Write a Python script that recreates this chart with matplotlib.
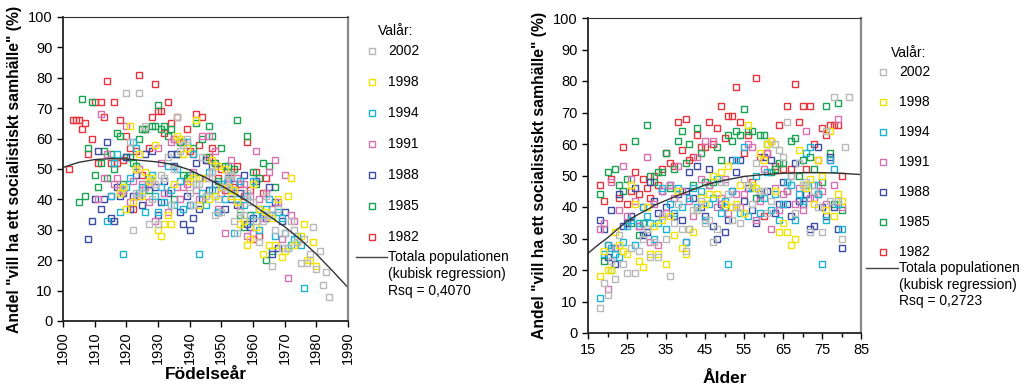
import numpy as np
import matplotlib
matplotlib.use("Agg")
from matplotlib import pyplot as plt
from matplotlib.lines import Line2D
from matplotlib.ticker import MultipleLocator

plt.rcParams['font.family'] = ['Liberation Sans', 'DejaVu Sans']

# survey years (Valår) and colours, in legend order
valar = [2002, 1998, 1994, 1991, 1988, 1985, 1982]
colours = {2002: '#b9b9b9', 1998: '#f2e200', 1994: '#1db4d4', 1991: '#d770b0',
           1988: '#3c4ba3', 1985: '#17a34f', 1982: '#e9333c'}

# first age in each survey series (one value per age)
first_age = {2002: 18, 1998: 18, 1994: 18, 1991: 18, 1988: 18, 1985: 18, 1982: 18}

# share wanting a socialist society (%), per age
andel_1982 = [47, 42, 28, 49, 27, 43, 59, 41, 45, 51,
              44, 49, 46, 43, 50, 47, 52, 57, 54, 53,
              67, 58, 68, 55, 56, 63, 59, 59, 67, 60,
              65, 72, 62, 69, 69, 78, 67, 57, 63, 48,
              81, 56, 37, 57, 61, 53, 66, 52, 72, 52,
              79, 67, 72, 52, 72, 60, 55, 65, 63, 66,
              66, 66, 50]
andel_1985 = [44, 23, 51, 20, 52, 47, 45, 49, 35, 61,
              31, 35, 66, 50, 48, 51, 51, 57, 46, 52,
              61, 64, 54, 60, 47, 65, 57, 48, 47, 48,
              59, 55, 40, 63, 61, 64, 63, 71, 64, 64,
              43, 63, 63, 60, 51, 52, 54, 54, 45, 61,
              62, 50, 55, 47, 56, 52, 44, 48, 72, 57,
              41, 73, 39]
andel_1988 = [36, 33, 24, 39, 22, 44, 34, 35, 37, 46,
              34, 31, 32, 48, 42, 38, 45, 40, 47, 37,
              44, 36, 45, 51, 43, 53, 40, 37, 52, 34,
              30, 41, 32, 36, 55, 51, 55, 42, 46, 39,
              35, 44, 56, 45, 55, 38, 41, 48, 41, 37,
              54, 42, 41, 44, 33, 34, 59, 40, 37, 56,
              40, 33, 27]
andel_1991 = [33, 35, 14, 48, 27, 39, 53, 37, 49, 42,
              34, 40, 56, 29, 41, 28, 45, 38, 47, 43,
              53, 45, 29, 42, 37, 56, 49, 61, 47, 61,
              40, 43, 49, 38, 45, 44, 40, 44, 60, 59,
              36, 42, 52, 57, 33, 46, 39, 44, 45, 50,
              41, 46, 39, 64, 43, 43, 47, 45, 41, 55,
              47, 68, 40]
andel_1994 = [11, 25, 28, 27, 25, 24, 29, 34, 36, 28,
              35, 40, 37, 35, 30, 35, 46, 33, 41, 38,
              46, 40, 29, 43, 46, 40, 45, 36, 41, 43,
              49, 38, 42, 22, 45, 55, 38, 59, 37, 46,
              50, 38, 43, 51, 39, 44, 36, 41, 48, 47,
              36, 44, 42, 57, 59, 47, 44, 22, 36, 55,
              52, 41, 33]
andel_1998 = [18, 26, 20, 20, 32, 28, 26, 25, 47, 41,
              23, 21, 40, 25, 34, 25, 36, 22, 37, 31,
              45, 27, 25, 33, 32, 39, 43, 41, 44, 50,
              44, 51, 41, 53, 40, 41, 47, 38, 66, 47,
              46, 57, 55, 60, 61, 45, 32, 35, 32, 28,
              30, 58, 47, 46, 49, 41, 55, 50, 39, 64,
              37, 44, 42]
andel_2002 = [8, 16, 12, 23, 17, 31, 22, 19, 27, 19,
              26, 30, 33, 24, 29, 24, 37, 30, 18, 35,
              41, 33, 26, 33, 39, 39, 42, 35, 36, 29,
              33, 48, 48, 44, 36, 40, 35, 49, 47, 41,
              54, 45, 45, 38, 42, 60, 58, 56, 67, 50,
              38, 54, 47, 48, 32, 45, 40, 32, 64, 42,
              75, 42, 30, 59, 75]

andel = {1982: andel_1982, 1985: andel_1985, 1988: andel_1988, 1991: andel_1991,
         1994: andel_1994, 1998: andel_1998, 2002: andel_2002}

# cubic regression curves (whole population)
kurva_fodelsear = [1900, 1905, 1910, 1915, 1920, 1925, 1930, 1935, 1940, 1945,
                   1950, 1955, 1960, 1965, 1970, 1975, 1980, 1985, 1990]
kurva_fodelsear_andel = [50.5, 52.2, 53.1, 53.4, 53.3, 52.8, 52.3, 51.4, 49.7, 47.2,
                         44.5, 41.5, 38.2, 34.6, 31.0, 26.8, 22.0, 16.6, 11.0]
kurva_alder = [15, 17.5, 20, 22.5, 25, 27.5, 30, 32.5, 35, 37.5, 40, 42.5,
               45, 47.5, 50, 55, 60, 65, 70, 75, 80, 85]
kurva_alder_andel = [25.3, 27.9, 30.2, 32.9, 35.4, 37.4, 39.0, 40.8, 42.1, 43.4, 44.6, 45.8,
                     47.0, 47.8, 48.5, 49.7, 50.3, 50.7, 50.9, 50.9, 50.7, 50.3]

rsq_left = 'Rsq = 0,4070'
rsq_right = 'Rsq = 0,2723'
ylabel = 'Andel "vill ha ett socialistiskt samhälle" (%)'

W, H = 1023, 385


def series(year):
    vals = np.array(andel[year], dtype=float)
    age = first_age[year] + np.arange(len(vals))
    return age, year - age, vals


fig = plt.figure(figsize=(W / 100, H / 100), dpi=100)
ax1 = fig.add_axes([63 / W, 64 / H, 285 / W, 304 / H])
ax2 = fig.add_axes([588 / W, 52 / H, 273 / W, 315 / H])

for year in valar[::-1]:
    age, birth, vals = series(year)
    kw = dict(ls='none', marker='s', ms=4.6, mfc='none', mew=1.0, mec=colours[year])
    ax1.plot(birth, vals, **kw)
    ax2.plot(age, vals, **kw)

ax1.plot(kurva_fodelsear, kurva_fodelsear_andel, color='#333333', lw=1.0)
ax2.plot(kurva_alder, kurva_alder_andel, color='#333333', lw=1.0)

for ax in (ax1, ax2):
    ax.set_ylim(0, 100)
    ax.yaxis.set_major_locator(MultipleLocator(10))
    ax.set_ylabel(ylabel, fontsize=11.3, fontweight='bold', labelpad=4)
    ax.tick_params(labelsize=10.5, direction='out', length=4, width=1)
    ax.tick_params(which='minor', direction='out', length=3, width=1)
    for s in ('left', 'bottom'):
        ax.spines[s].set_color('#222222')
        ax.spines[s].set_linewidth(1.3)
    ax.spines['top'].set_color('#333333')
    ax.spines['top'].set_linewidth(0.8)
    ax.spines['right'].set_color('#888888')
    ax.spines['right'].set_linewidth(1.6)

ax1.set_xlim(1900, 1990)
ax1.xaxis.set_major_locator(MultipleLocator(10))
ax1.tick_params(axis='x', labelrotation=90)
ax1.set_xlabel('Födelseår', fontsize=12.5, fontweight='bold', labelpad=2)

ax2.set_xlim(15, 85)
ax2.set_xticks(np.arange(15, 86, 10))
ax2.set_xticks(np.arange(20, 85, 10), minor=True)
ax2.set_xlabel('Ålder', fontsize=12.5, fontweight='bold', labelpad=10)


def make_legend(title_xy, marker_x, text_x, rows_y, line_x, line_y, step, rsq):
    """legend drawn outside the axes, pixel positions from the top-left corner"""
    fs = 10
    fig.text(title_xy[0] / W, 1 - title_xy[1] / H, 'Valår:', fontsize=fs,
             ha='left', va='center')
    for i, year in enumerate(valar):
        y = 1 - (rows_y + i * step) / H
        fig.add_artist(Line2D([marker_x / W], [y], ls='none', marker='s', ms=4.0,
                              mfc='none', mew=1.0, mec=colours[year]))
        fig.text(text_x / W, y, str(year), fontsize=fs, ha='left', va='center')
    fig.add_artist(Line2D([line_x[0] / W, line_x[1] / W], [1 - line_y / H] * 2,
                          color='#444444', lw=1.0))
    fig.text((line_x[1] + 1) / W, 1 - (line_y - 7) / H,
             'Totala populationen\n(kubisk regression)\n' + rsq,
             fontsize=fs, ha='left', va='top', linespacing=1.25)


make_legend((378, 31), 372, 388, 51, (356, 387), 257, 31.0, rsq_left)
make_legend((891, 53), 883, 899, 72, (866, 898), 268, 30.0, rsq_right)

fig.savefig('out.png', dpi=100)
